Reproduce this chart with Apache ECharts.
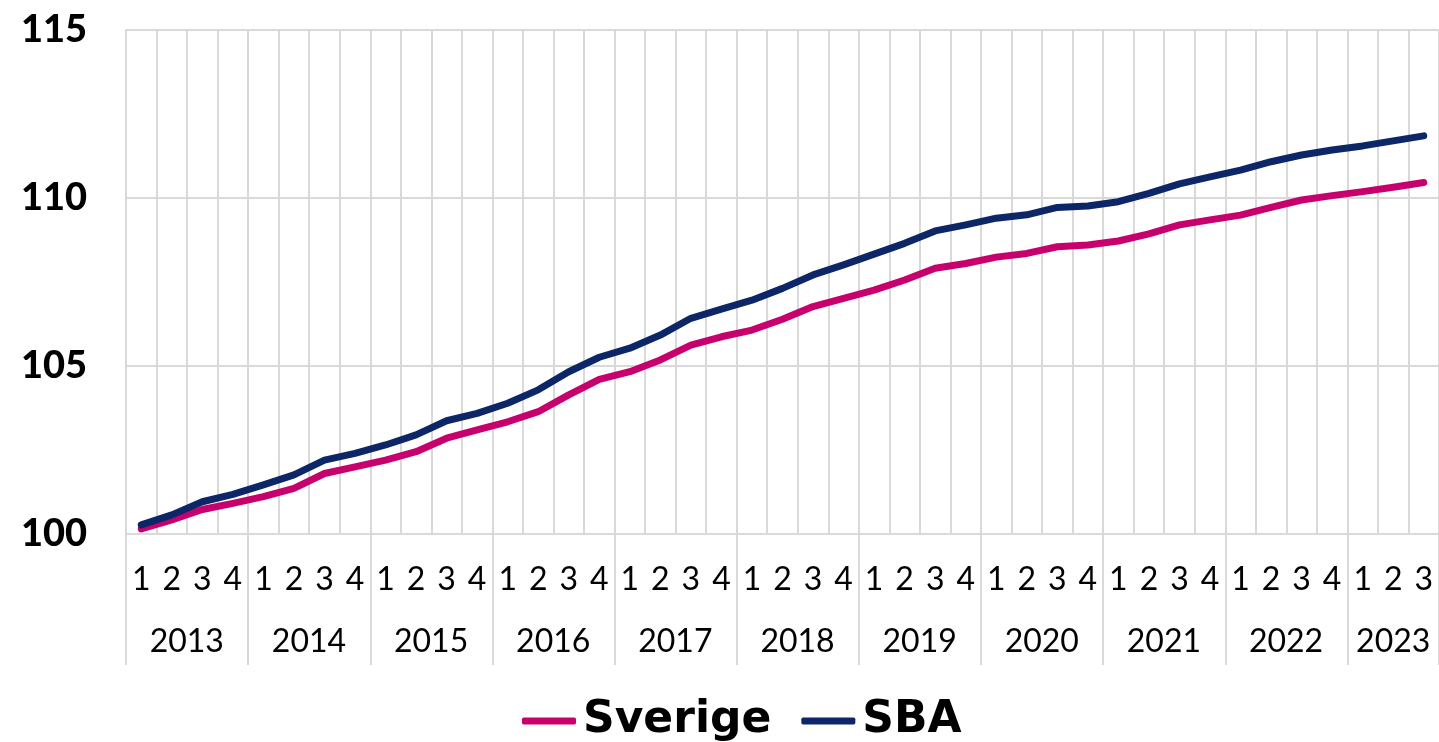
<!DOCTYPE html>
<html>
<head>
<meta charset="utf-8">
<script src="https://cdn.jsdelivr.net/npm/echarts@6/dist/echarts.min.js"></script>
<style>
  html, body { margin: 0; padding: 0; background: #fff; }
  #chart { width: 1439px; height: 742px; }
</style>
</head>
<body>
<div id="chart"></div>
<script>
// Kvartal 2013 Q1 - 2023 Q3
const years = ['2013', '2014', '2015', '2016', '2017', '2018', '2019', '2020', '2021', '2022', '2023'];
const quartersPerYear = [4, 4, 4, 4, 4, 4, 4, 4, 4, 4, 3];

const sverige = [100.15, 100.42, 100.73, 100.91, 101.11, 101.36, 101.8, 102.0, 102.2, 102.45,
    102.85, 103.1, 103.34, 103.64, 104.14, 104.6, 104.83, 105.18, 105.62, 105.87,
    106.07, 106.39, 106.77, 107.01, 107.26, 107.56, 107.91, 108.05, 108.24, 108.35,
    108.55, 108.6, 108.72, 108.93, 109.2, 109.35, 109.49, 109.72, 109.94, 110.07,
    110.19, 110.32, 110.46];
const sba = [100.27, 100.57, 100.96, 101.18, 101.46, 101.76, 102.2, 102.4, 102.65, 102.95,
    103.37, 103.59, 103.89, 104.29, 104.83, 105.26, 105.53, 105.92, 106.42, 106.69,
    106.96, 107.31, 107.71, 108.01, 108.33, 108.65, 109.02, 109.2, 109.4, 109.5,
    109.72, 109.76, 109.89, 110.14, 110.42, 110.63, 110.83, 111.08, 111.28, 111.43,
    111.55, 111.7, 111.85];

// Kategorier byggs av år och kvartal
const quarterLabels = [];
const yearOfQuarter = [];
const quarterIndex = [];
years.forEach((y, i) => {
    for (let q = 1; q <= quartersPerYear[i]; q++) {
        quarterLabels.push(String(q));
        yearOfQuarter.push(y);
        quarterIndex.push(q);
    }
});

const gridColor = '#d9d9d9';
const chart = echarts.init(document.getElementById('chart'));

chart.setOption({
    animation: false,
    grid: { left: 126, right: -6, top: 30, bottom: 208, containLabel: false },
    legend: {
        bottom: -6,
        left: 517,
        icon: 'roundRect',
        itemWidth: 54,
        itemHeight: 7,
        itemGap: 30,
        textStyle: { fontFamily: 'DejaVu Sans', fontWeight: 'bold', fontSize: 44, color: '#000', padding: [0, 0, 0, 2] },
        data: ['Sverige', 'SBA']
    },
    xAxis: [{
        type: 'category',
        data: quarterLabels,
        boundaryGap: true,
        axisLine: { show: false },
        axisTick: { show: false },
        splitLine: { show: true, interval: 0, lineStyle: { color: gridColor, width: 2 } },
        axisLabel: {
            interval: 0,
            margin: 30,
            fontFamily: 'Lato',
            fontSize: 32,
            color: '#000'
        }
    }, {
        type: 'category',
        data: yearOfQuarter,
        position: 'bottom',
        boundaryGap: true,
        axisLine: { show: false },
        axisTick: {
            show: true,
            length: 131,
            interval: (i) => quarterIndex[i] === 1,
            lineStyle: { color: gridColor, width: 2 }
        },
        axisLabel: {
            interval: (i) => quarterIndex[i] === 2,
            margin: 92,
            fontFamily: 'Lato',
            fontSize: 32,
            color: '#000',
            formatter: (value) => {
                const n = quartersPerYear[years.indexOf(value)];
                return n === 4 ? '{full|' + value + '}' : '{part|' + value + '}';
            },
            rich: {
                full: { fontFamily: 'Lato', fontSize: 32, color: '#000', padding: [0, 0, 0, 30] },
                part: { fontFamily: 'Lato', fontSize: 32, color: '#000' }
            }
        }
    }],
    yAxis: {
        type: 'value',
        min: 100,
        max: 115,
        interval: 5,
        axisLine: { show: true, lineStyle: { color: gridColor, width: 2 } },
        axisTick: { show: false },
        splitLine: { show: true, lineStyle: { color: gridColor, width: 2 } },
        axisLabel: {
            margin: 39,
            fontFamily: 'Lato',
            fontWeight: 900,
            fontSize: 38,
            color: '#000'
        }
    },
    series: [{
        name: 'Sverige',
        type: 'line',
        data: sverige,
        symbol: 'none',
        color: '#c8006e',
        lineStyle: { width: 7, cap: 'round', join: 'round' }
    }, {
        name: 'SBA',
        type: 'line',
        data: sba,
        symbol: 'none',
        color: '#0c2667',
        lineStyle: { width: 7, cap: 'round', join: 'round' }
    }]
});
</script>
</body>
</html>
